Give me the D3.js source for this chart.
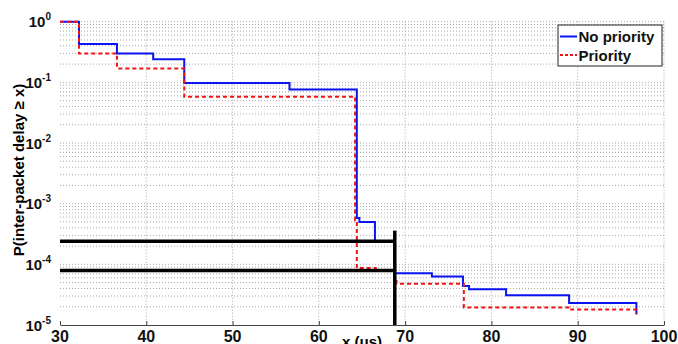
<!DOCTYPE html>
<html>
<head>
<meta charset="utf-8">
<script src="https://d3js.org/d3.v7.min.js"></script>
<style>
    body {margin: 0; background: #fff;}
    svg {font-family: Arial, "Liberation Sans", sans-serif; font-weight: bold;}
    .grid line {stroke: #a8a8a8; stroke-width: 1; stroke-dasharray: 1,2;}
    .tick-label {font-size: 15px; fill: #111;}
    .sup {font-size: 10px;}
</style>
</head>
<body>
<svg id="chart" width="678" height="344"></svg>
<script>
    // step points (x in us, probability), each value holds until next x
    let noPriorityX = [30, 32.2, 36.6, 40.8, 44.4, 56.6, 64.4, 64.7, 66.5, 68.8, 73.1, 76.7, 77.4, 81.7, 89.0, 96.8];
    let noPriorityP = [1, 0.43, 0.30, 0.24, 0.098, 0.076, 5.8e-4, 5.0e-4, 2.4e-4, 7.1e-5, 6.3e-5, 4.4e-5, 3.9e-5, 3.1e-5, 2.3e-5, 1.5e-5];

    let priorityX = [30, 32.2, 36.6, 44.4, 64.2, 64.4, 66.6, 68.8, 69.0, 76.8, 89.0, 96.8];
    let priorityP = [1, 0.30, 0.17, 0.058, 5.3e-4, 8.7e-5, 7.9e-5, 5.3e-5, 4.8e-5, 1.95e-5, 1.8e-5, 1.5e-5];

    // black reference lines
    let refLevels = [2.4e-4, 7.9e-5];
    let refX = 68.8;
    let refTop = 3.6e-4;

    let xTicks = [30, 40, 50, 60, 70, 80, 90, 100];
    let yExponents = [0, -1, -2, -3, -4, -5];
    let legendLabels = ["No priority", "Priority"];

    let svg = d3.select("#chart");

    let x = d3.scaleLinear().domain([30, 100]).range([60, 664]);
    let y = d3.scaleLog().domain([1e-5, 1]).range([325, 21.7]);

    // grid
    let grid = svg.append("g").attr("class", "grid");
    let minor = [];
    yExponents.forEach(function(e) {
        for (let m = 1; m < 10; m++) {
            let v = m * Math.pow(10, e);
            if (v <= 1 && v > 1e-5) minor.push(v);
        }
    });
    grid.selectAll(".hg")
        .data(minor)
        .enter().append("line")
        .attr("x1", x(30)).attr("x2", x(100))
        .attr("y1", d => y(d)).attr("y2", d => y(d));
    grid.selectAll(".vg")
        .data(xTicks.slice(1))
        .enter().append("line")
        .attr("x1", d => x(d)).attr("x2", d => x(d))
        .attr("y1", y(1)).attr("y2", y(1e-5));

    // bottom axis
    let xAxis = d3.axisBottom(x)
        .tickValues(xTicks)
        .tickSizeInner(-4)
        .tickSizeOuter(0)
        .tickFormat("");
    svg.append("g")
        .attr("transform", "translate(0," + y(1e-5) + ")")
        .call(xAxis)
        .call(g => g.selectAll("line, path").attr("stroke", "#444"));

    svg.selectAll(".xlab")
        .data(xTicks)
        .enter().append("text")
        .attr("class", "tick-label")
        .attr("x", d => x(d))
        .attr("y", 342)
        .attr("text-anchor", "middle")
        .style("font-size", "16px")
        .text(d => d);

    // y tick labels 10^e
    let yl = svg.selectAll(".ylab")
        .data(yExponents)
        .enter().append("text")
        .attr("class", "tick-label")
        .attr("x", 51)
        .attr("y", d => y(Math.pow(10, d)) + 5.5)
        .attr("text-anchor", "end");
    yl.append("tspan").text("10");
    yl.append("tspan").attr("class", "sup").attr("dy", -7).text(d => d === 0 ? "0" : "-" + Math.abs(d));

    // axis titles
    svg.append("text")
        .attr("transform", "translate(24,170) rotate(-90)")
        .attr("text-anchor", "middle")
        .style("font-size", "15px")
        .text("P(inter-packet delay \u2265 x)");

    svg.append("text")
        .attr("x", 362)
        .attr("y", 347)
        .attr("text-anchor", "middle")
        .style("font-size", "15px")
        .text("x (\u03bcs)");

    // series
    let step = d3.line()
        .x(d => x(d[0]))
        .y(d => y(d[1]))
        .curve(d3.curveStepAfter);

    svg.append("path")
        .datum(d3.zip(noPriorityX, noPriorityP))
        .attr("fill", "none")
        .attr("stroke", "#0a14f0")
        .attr("stroke-width", 2)
        .attr("d", step);

    svg.append("path")
        .datum(d3.zip(priorityX, priorityP))
        .attr("fill", "none")
        .attr("stroke", "#f01414")
        .attr("stroke-width", 2)
        .attr("stroke-dasharray", "4,3")
        .attr("d", step);

    // reference lines
    svg.selectAll(".ref")
        .data(refLevels)
        .enter().append("line")
        .attr("x1", x(30)).attr("x2", x(refX))
        .attr("y1", d => y(d)).attr("y2", d => y(d))
        .attr("stroke", "#000")
        .attr("stroke-width", 3.5);
    svg.append("line")
        .attr("x1", x(refX)).attr("x2", x(refX))
        .attr("y1", y(refTop)).attr("y2", y(1e-5))
        .attr("stroke", "#000")
        .attr("stroke-width", 3.5);

    // legend
    let legend = svg.append("g").attr("transform", "translate(558,25)");
    legend.append("rect")
        .attr("width", 104).attr("height", 41)
        .attr("fill", "#fff").attr("stroke", "#222").attr("stroke-width", 1);
    let items = legend.selectAll(".item")
        .data(legendLabels)
        .enter().append("g")
        .attr("transform", (d, i) => "translate(0," + (11.5 + i * 18.5) + ")");
    items.append("line")
        .attr("x1", 2).attr("x2", 19)
        .attr("stroke", (d, i) => i === 0 ? "#0a14f0" : "#f01414")
        .attr("stroke-width", 2)
        .attr("stroke-dasharray", (d, i) => i === 0 ? null : "3,2");
    items.append("text")
        .attr("x", 20.5)
        .attr("y", 5.5)
        .style("font-size", "15px")
        .attr("fill", "#111")
        .text(d => d);
</script>
</body>
</html>
